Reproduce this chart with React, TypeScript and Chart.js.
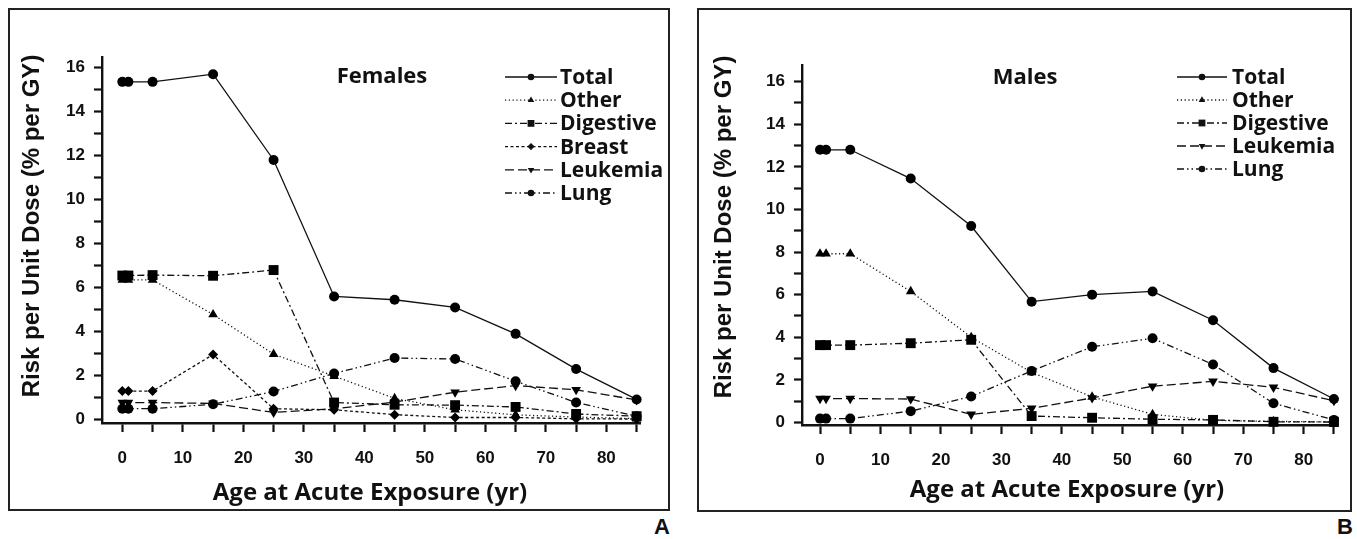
import React, { useEffect, useRef } from "react";
import { Chart, registerables } from "chart.js";
Chart.register(...registerables);

// ---------------- data ----------------
const ages = [0, 1, 5, 15, 25, 35, 45, 55, 65, 75, 85];
const xLabelTicks = [0, 10, 20, 30, 40, 50, 60, 70, 80];
const yLabelTicks = [0, 2, 4, 6, 8, 10, 12, 14, 16];

const yAxisTitle = "Risk per Unit Dose (% per GY)";
const xAxisTitle = "Age at Acute Exposure (yr)";

const femalesTitle = "Females";
const femaleSeriesNames = ["Total", "Other", "Digestive", "Breast", "Leukemia", "Lung"];
const femalesTotal = [15.35, 15.35, 15.35, 15.7, 11.8, 5.6, 5.45, 5.1, 3.9, 2.3, 0.92];
const femalesOther = [6.35, 6.35, 6.35, 4.78, 2.98, 1.98, 0.97, 0.45, 0.22, 0.12, 0.05];
const femalesDigestive = [6.55, 6.55, 6.57, 6.54, 6.8, 0.78, 0.68, 0.66, 0.58, 0.26, 0.16];
const femalesBreast = [1.3, 1.3, 1.3, 2.96, 0.5, 0.45, 0.23, 0.1, 0.1, 0.04, 0.03];
const femalesLeukemia = [0.78, 0.78, 0.78, 0.74, 0.33, 0.5, 0.8, 1.25, 1.55, 1.36, 0.9];
const femalesLung = [0.5, 0.5, 0.5, 0.7, 1.28, 2.1, 2.8, 2.76, 1.75, 0.78, 0.16];

const malesTitle = "Males";
const maleSeriesNames = ["Total", "Other", "Digestive", "Leukemia", "Lung"];
const malesTotal = [12.8, 12.8, 12.8, 11.45, 9.22, 5.67, 6.0, 6.15, 4.8, 2.55, 1.1];
const malesOther = [7.92, 7.92, 7.92, 6.15, 4.0, 2.35, 1.2, 0.38, 0.1, 0.05, 0.02];
const malesDigestive = [3.63, 3.63, 3.63, 3.72, 3.88, 0.3, 0.22, 0.15, 0.12, 0.03, 0.02];
const malesLeukemia = [1.12, 1.12, 1.12, 1.1, 0.38, 0.66, 1.15, 1.7, 1.93, 1.65, 1.02];
const malesLung = [0.18, 0.18, 0.18, 0.53, 1.22, 2.42, 3.55, 3.95, 2.72, 0.9, 0.12];

const femalesValues = [femalesTotal, femalesOther, femalesDigestive, femalesBreast, femalesLeukemia, femalesLung];
const malesValues = [malesTotal, malesOther, malesDigestive, malesLeukemia, malesLung];

// ---------------- styles ----------------
const INK = "#111";
const STYLE: Record<string, any> = {
  Total: { dash: [], point: "circle", rot: 0, r: 5, lr: 3.3 },
  Other: { dash: [1.2, 2.6], point: "triangle", rot: 0, r: 5.6, lr: 3.8 },
  Digestive: { dash: [7, 3, 2, 3], point: "rect", rot: 0, r: 7, lr: 4.8 },
  Breast: { dash: [3, 2.5], point: "rectRot", rot: 0, r: 5, lr: 3.6 },
  Leukemia: { dash: [9, 4], point: "triangle", rot: 180, r: 5.6, lr: 3.8 },
  Lung: { dash: [7, 3, 1.5, 3, 1.5, 3], point: "circle", rot: 0, r: 5, lr: 3.3 },
};

function drawMarker(ctx: CanvasRenderingContext2D, style: string, rot: number, x: number, y: number, r: number) {
  ctx.beginPath();
  if (style === "circle") {
    ctx.arc(x, y, r, 0, Math.PI * 2);
  } else if (style === "rect") {
    const s = Math.SQRT1_2 * r;
    ctx.rect(x - s, y - s, 2 * s, 2 * s);
  } else if (style === "rectRot") {
    ctx.moveTo(x - r, y);
    ctx.lineTo(x, y - r);
    ctx.lineTo(x + r, y);
    ctx.lineTo(x, y + r);
    ctx.closePath();
  } else if (style === "triangle") {
    const a = (rot * Math.PI) / 180;
    for (let k = 0; k < 3; k++) {
      const ang = a - Math.PI / 2 + (k * 2 * Math.PI) / 3;
      const px = x + Math.cos(ang) * r;
      const py = y + Math.sin(ang) * r;
      if (k === 0) ctx.moveTo(px, py);
      else ctx.lineTo(px, py);
    }
    ctx.closePath();
  }
  ctx.fill();
}

const decorPlugin = {
  id: "decor",
  afterDraw(chart: any) {
    const o = chart.options.plugins.decor;
    const ctx: CanvasRenderingContext2D = chart.ctx;
    ctx.save();
    ctx.fillStyle = INK;
    ctx.strokeStyle = INK;
    ctx.textBaseline = "middle";
    // panel title
    ctx.textAlign = "center";
    ctx.font = `bold ${o.titleSize}px "Open Sans"`;
    ctx.fillText(o.title, o.titleX, o.titleY);
    // y title
    ctx.save();
    ctx.translate(o.yTitleX, o.yTitleY);
    ctx.rotate(-Math.PI / 2);
    ctx.font = 'bold 24px "Liberation Sans"';
    ctx.fillText(yAxisTitle, 0, 0);
    ctx.restore();
    // x title
    ctx.font = 'bold 24px "Open Sans"';
    ctx.fillText(xAxisTitle, o.xTitleX, o.xTitleY);
    // legend
    chart.data.datasets.forEach((ds: any, i: number) => {
      const st = STYLE[ds.label];
      const y = o.legendY + i * o.legendGap;
      ctx.lineWidth = 1.3;
      ctx.setLineDash(st.dash);
      ctx.beginPath();
      ctx.moveTo(o.legendX1, y);
      ctx.lineTo(o.legendX2, y);
      ctx.stroke();
      ctx.setLineDash([]);
      drawMarker(ctx, st.point, st.rot, (o.legendX1 + o.legendX2) / 2, y, st.lr);
      ctx.textAlign = "left";
      ctx.font = 'bold 21px "Open Sans"';
      ctx.fillText(ds.label, o.legendTextX, y + 1);
    });
    ctx.restore();
  },
};

function buildConfig(p: any): any {
  const datasets = p.names.map((name: string, i: number) => {
    const st = STYLE[name];
    return {
      label: name,
      data: ages.map((a, j) => ({ x: a, y: p.values[i][j] })),
      borderColor: INK,
      borderWidth: 1.3,
      borderDash: st.dash,
      backgroundColor: INK,
      pointStyle: st.point,
      pointRotation: st.rot,
      pointRadius: st.r,
      pointBorderWidth: 0,
      pointBackgroundColor: "#000",
      pointBorderColor: "#000",
      tension: 0,
      clip: false,
    };
  });
  const tickFont = { family: "Liberation Sans", weight: "bold", size: 17 };
  return {
    type: "line",
    data: { datasets },
    plugins: [decorPlugin],
    options: {
      responsive: false,
      animation: false,
      events: [],
      layout: { padding: { left: 0, top: p.chartTop, right: p.padRight, bottom: 0 } },
      plugins: {
        legend: { display: false },
        tooltip: { enabled: false },
        decor: p.decor,
      },
      scales: {
        x: {
          type: "linear",
          min: p.xMin,
          max: p.xMax,
          afterFit: (s: any) => { s.height = p.xScaleH; },
          border: { display: true, color: INK, width: 2.4 },
          grid: { drawOnChartArea: false, drawTicks: true, tickLength: 9, tickColor: INK, tickWidth: 2.2 },
          ticks: {
            stepSize: 5,
            includeBounds: false,
            autoSkip: false,
            maxRotation: 0,
            padding: 16,
            color: INK,
            font: tickFont,
            callback: (v: number) => (xLabelTicks.includes(v) ? String(v) : ""),
          },
        },
        y: {
          type: "linear",
          min: p.yMin,
          max: p.yMax,
          afterFit: (s: any) => { s.width = p.yScaleW; },
          border: { display: true, color: INK, width: 2.4 },
          grid: { drawOnChartArea: false, drawTicks: true, tickLength: 8, tickColor: INK, tickWidth: 2.2 },
          ticks: {
            stepSize: 1,
            includeBounds: false,
            autoSkip: false,
            padding: 9,
            color: INK,
            font: tickFont,
            callback: (v: number) => (yLabelTicks.includes(v) ? String(v) : ""),
          },
        },
      },
    },
  };
}

const femalesPanel = {
  names: femaleSeriesNames,
  values: femalesValues,
  xMin: -3.36,
  xMax: 85.56,
  yMin: -0.15,
  yMax: 16.48,
  chartTop: 47,
  padRight: 28,
  yScaleW: 92,
  xScaleH: 86,
  decor: {
    title: femalesTitle,
    titleSize: 22,
    titleX: 372,
    titleY: 67,
    yTitleX: 22,
    yTitleY: 216,
    xTitleX: 360,
    xTitleY: 483,
    legendX1: 495,
    legendX2: 547,
    legendTextX: 550,
    legendY: 67,
    legendGap: 23.2,
  },
};

const malesPanel = {
  names: maleSeriesNames,
  values: malesValues,
  xMin: -2.98,
  xMax: 85.53,
  yMin: -0.12,
  yMax: 16.78,
  chartTop: 55,
  padRight: 5,
  yScaleW: 103,
  xScaleH: 85,
  decor: {
    title: malesTitle,
    titleSize: 22,
    titleX: 326,
    titleY: 68,
    yTitleX: 25,
    yTitleY: 217,
    xTitleX: 368,
    xTitleY: 480,
    legendX1: 478,
    legendX2: 528,
    legendTextX: 533,
    legendY: 67,
    legendGap: 23,
  },
};

function Panel({ left, top, width, height, cfg }: any) {
  const ref = useRef<HTMLCanvasElement>(null);
  useEffect(() => {
    const chart = new Chart(ref.current as HTMLCanvasElement, buildConfig(cfg));
    return () => chart.destroy();
  }, []);
  return (
    <div
      style={{
        position: "absolute",
        left,
        top,
        width,
        height,
        border: "2px solid #222",
        boxSizing: "border-box",
        background: "#fff",
      }}
    >
      <canvas
        ref={ref}
        width={width - 4}
        height={height - 4}
        style={{ position: "absolute", left: 0, top: 0, width: width - 4, height: height - 4 }}
      />
    </div>
  );
}

const letterStyle: React.CSSProperties = {
  position: "absolute",
  fontFamily: '"Liberation Sans", Arial, sans-serif',
  fontWeight: "bold",
  fontSize: 22,
  lineHeight: "22px",
  color: INK,
};

export default function App() {
  return (
    <div style={{ position: "absolute", left: 0, top: 0, width: 1357, height: 539, background: "#fff", overflow: "hidden" }}>
      <Panel left={8} top={8} width={662} height={503} cfg={femalesPanel} />
      <Panel left={697} top={8} width={655} height={504} cfg={malesPanel} />
      <div style={{ ...letterStyle, left: 654, top: 516 }}>A</div>
      <div style={{ ...letterStyle, left: 1337, top: 516 }}>B</div>
    </div>
  );
}
